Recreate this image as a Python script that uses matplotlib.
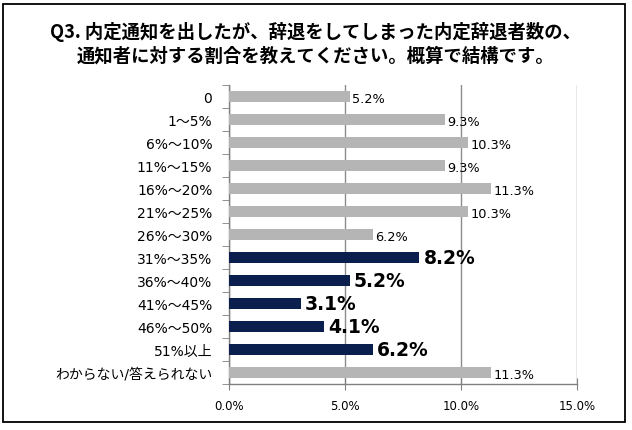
import matplotlib
matplotlib.use("Agg")
import matplotlib.pyplot as plt
from matplotlib.patches import Rectangle
from matplotlib.ticker import FixedLocator

plt.rcParams['font.family'] = ['DejaVu Sans', 'Noto Sans CJK JP']

categories = ["0", "1～5%", "6%～10%", "11%～15%", "16%～20%", "21%～25%",
              "26%～30%", "31%～35%", "36%～40%", "41%～45%", "46%～50%",
              "51%以上", "わからない/答えられない"]
values = [5.2, 9.3, 10.3, 9.3, 11.3, 10.3, 6.2, 8.2, 5.2, 3.1, 4.1, 6.2, 11.3]
highlight = [False, False, False, False, False, False, False, True, True, True, True, True, False]
xticks = [0, 5, 10, 15]
xticklabels = ["0.0%", "5.0%", "10.0%", "15.0%"]
title = "Q3. 内定通知を出したが、辞退をしてしまった内定辞退者数の、\n通知者に対する割合を教えてください。概算で結構です。"

GRAY = "#B5B5B5"
NAVY = "#0B1F4F"

fig = plt.figure(figsize=(6.32, 4.31), dpi=100)
ax = fig.add_axes([229/632, 1-385/431, 348/632, 299/431])

n = len(categories)
ypos = list(range(n))
colors = [NAVY if h else GRAY for h in highlight]
ax.barh(ypos, values, height=0.46, color=colors, zorder=3)

ax.set_ylim(n - 0.5, -0.5)
ax.set_xlim(0, 15)

for y, v, h in zip(ypos, values, highlight):
    if h:
        ax.annotate(f"{v:.1f}%", (v, y), xytext=(3, 0), textcoords="offset points",
                    va="center", ha="left", fontsize=13.5, fontweight="bold",
                    color="black", zorder=4)
    else:
        ax.annotate(f"{v:.1f}%", (v, y), xytext=(2, -1.5), textcoords="offset points",
                    va="center", ha="left", fontsize=9.3, color="black", zorder=4)

ax.set_yticks(ypos)
ax.set_yticklabels(categories, fontsize=10, family=['DejaVu Sans', 'Noto Sans CJK JP'])
ax.tick_params(axis='y', which='major', length=0, pad=12)
ax.yaxis.set_minor_locator(FixedLocator([i - 0.5 for i in range(n + 1)]))
ax.tick_params(axis='y', which='minor', length=5, color="#808080", direction='out')

ax.set_xticks(xticks)
ax.set_xticklabels(xticklabels, fontsize=8.5)
ax.tick_params(axis='x', which='major', length=8, color="#808080", direction='inout', pad=7)

ax.grid(axis='x', color="#8C8C8C", linewidth=1, zorder=0)
for s in ['top', 'right']:
    ax.spines[s].set_visible(False)
for s in ['left', 'bottom']:
    ax.spines[s].set_color("#808080")
    ax.spines[s].set_linewidth(1)

fig.text(0.5, 1 - 44/431, title, ha="center", va="center", fontsize=13.2,
         fontweight="bold", linespacing=1.3, family=['Noto Sans CJK JP', 'DejaVu Sans'])

fig.patches.append(Rectangle((3/632, 1-423/431), 622/632, 418/431, transform=fig.transFigure,
                             fill=False, edgecolor="black", linewidth=1.3))

fig.savefig("out.png", dpi=100)
